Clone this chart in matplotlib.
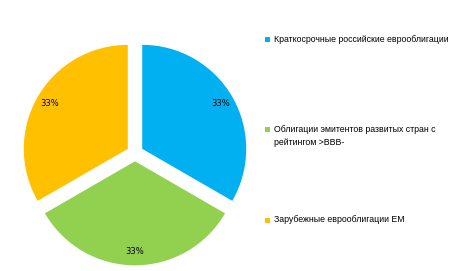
import matplotlib
matplotlib.use("Agg")
import matplotlib.pyplot as plt
from matplotlib.patches import Rectangle

categories = [
    "Краткосрочные российские еврооблигации",
    "Облигации эмитентов развитых стран с\nрейтингом >BBB-",
    "Зарубежные еврооблигации EM",
]
values = [33.3, 33.3, 33.3]
colors = ["#00B0F0", "#92D050", "#FFC000"]

W, H = 461, 271
fig = plt.figure(figsize=(W / 100, H / 100), dpi=100)
cx, cy, R = 135, 153, 104
ax = fig.add_axes([(cx - R) / W, (H - cy - R) / H, 2 * R / W, 2 * R / H])
wedges, texts = ax.pie(
    values, colors=colors, startangle=90, counterclock=False,
    explode=[0.08] * 3, autopct=lambda p: f"{p:.0f}%", pctdistance=0.87,
    textprops=dict(fontsize=6, color="black"),
    wedgeprops=dict(linewidth=0),
)[:2]
ax.set_xlim(-1, 1)
ax.set_ylim(-1, 1)
ax.set_aspect("equal")
for w in wedges:
    w.set_clip_on(False)

legend_y = [39.5, 129, 220]
for cat, col, y in zip(categories, colors, legend_y):
    fig.patches.append(Rectangle((265 / W, (H - y - 2.5) / H), 5 / W, 5 / H,
                                 transform=fig.transFigure, facecolor=col,
                                 edgecolor="none"))
    fig.text(274 / W, (H - y + 4.5) / H, cat, fontsize=6.3, va="top", ha="left",
             family="Liberation Sans", linespacing=1.6)

fig.savefig("out.png", dpi=100)
